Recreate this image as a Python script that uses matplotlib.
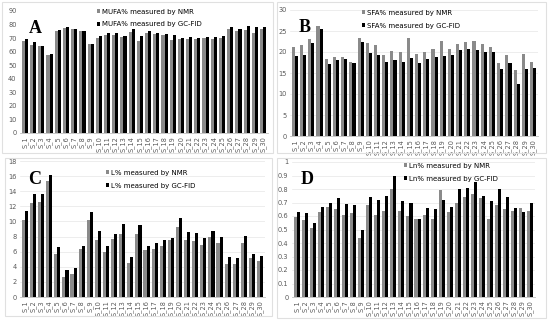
import numpy as np
import matplotlib
matplotlib.use("Agg")
import matplotlib.pyplot as plt
from matplotlib.patches import Rectangle

samples = ["S_%d" % i for i in range(1, 31)]

mufa_nmr = [68, 65, 64, 57.5, 75, 77.5, 77, 75.5, 66, 70, 72, 72, 70.5, 74.5, 67.5,
            73.5, 73, 72, 68.5, 69, 69.5, 69, 70, 69.5, 70, 77, 75, 76, 74, 76.5]
mufa_gc = [69.5, 67, 64, 58, 76, 78, 77, 75.5, 66, 71.5, 73.5, 73.5, 71.5, 76.5, 71.5,
           75.5, 74, 73, 72.5, 70, 70.5, 70, 71, 70.5, 71.5, 78, 76.5, 79, 78, 78]

sfa_nmr = [21.3, 21.7, 23.0, 26.2, 18.4, 18.7, 18.7, 17.7, 23.3, 22.1, 21.6, 19.3, 20.3, 20.0, 23.4,
           19.6, 20.1, 20.8, 22.6, 20.6, 21.8, 22.4, 22.7, 22.0, 21.2, 17.4, 19.2, 15.6, 19.6, 17.7]
sfa_gc = [19.0, 19.4, 22.1, 25.5, 17.2, 18.0, 18.4, 17.4, 22.5, 19.8, 19.4, 17.7, 18.2, 17.7, 18.6,
          17.4, 18.4, 18.8, 19.0, 19.2, 20.4, 20.7, 20.5, 20.0, 19.9, 15.9, 17.4, 12.4, 15.9, 16.1]

l_nmr = [10.2, 12.5, 12.6, 15.4, 5.7, 2.7, 3.1, 6.4, 10.2, 7.5, 5.9, 7.7, 8.3, 4.5, 8.3,
         6.2, 6.4, 6.7, 7.6, 9.3, 7.6, 7.4, 6.9, 7.9, 7.2, 4.4, 4.4, 7.1, 5.2, 4.8]
l_gc = [11.4, 13.6, 13.6, 16.2, 6.6, 3.6, 3.9, 6.7, 11.3, 8.7, 6.7, 8.4, 9.6, 5.3, 9.5,
        6.7, 7.1, 7.5, 7.8, 10.4, 8.6, 8.5, 7.8, 8.7, 7.9, 5.3, 5.1, 8.1, 5.7, 5.4]

ln_nmr = [0.59, 0.57, 0.51, 0.63, 0.67, 0.65, 0.61, 0.62, 0.44, 0.68, 0.61, 0.64, 0.80, 0.64, 0.60,
          0.58, 0.61, 0.58, 0.79, 0.63, 0.70, 0.74, 0.76, 0.73, 0.58, 0.68, 0.65, 0.64, 0.66, 0.64]
ln_gc = [0.63, 0.62, 0.55, 0.67, 0.70, 0.73, 0.69, 0.68, 0.50, 0.74, 0.72, 0.75, 0.90, 0.71, 0.70,
         0.58, 0.66, 0.65, 0.72, 0.67, 0.80, 0.81, 0.85, 0.75, 0.71, 0.80, 0.74, 0.66, 0.63, 0.70]

panels = [
    # letter, nmr, gc, label, yticks, ticklabels, axes rect (px), legend anchor, grid
    ("A", mufa_nmr, mufa_gc, "MUFA%", np.arange(0, 91, 10), None, (20, 11, 268, 133), (0.29, 1.06), False),
    ("B", sfa_nmr, sfa_gc, "SFA%", np.arange(0, 31, 5), None, (290, 10, 538, 136), (0.27, 1.04), True),
    ("C", l_nmr, l_gc, "L%", np.arange(0, 19, 2), None, (20, 161, 265, 297), (0.33, 0.97), True),
    ("D", ln_nmr, ln_gc, "Ln%", np.round(np.arange(0, 1.01, 0.1), 1),
     ["0"] + ["%.1f" % v for v in np.arange(0.1, 0.95, 0.1)] + ["1"], (292, 162, 535, 297), (0.44, 1.03), True),
]

W, H = 550, 321
fig = plt.figure(figsize=(5.5, 3.21), dpi=100)

# light panel frames
for (x0, y0, x1, y1) in [(2, 2, 273, 153), (277, 2, 546, 153), (5, 158, 272, 316), (277, 158, 546, 318)]:
    fig.patches.append(Rectangle((x0 / W, 1 - y1 / H), (x1 - x0) / W, (y1 - y0) / H,
                                 transform=fig.transFigure, fill=False,
                                 edgecolor="#e0e0e0", linewidth=0.8))

x = np.arange(len(samples))
bw = 0.38
for letter, nmr, gc, lab, yt, ytl, (x0, y0, x1, y1), anchor, grid in panels:
    ax = fig.add_axes([x0 / W, 1 - y1 / H, (x1 - x0) / W, (y1 - y0) / H])
    ax.bar(x - bw / 2, nmr, bw, color="#8a8a8a", label=lab + " measured by NMR")
    ax.bar(x + bw / 2, gc, bw, color="black", label=lab + " measured by GC-FID")
    ax.set_xlim(-0.6, len(samples) - 0.4)
    ax.set_ylim(yt[0], yt[-1])
    ax.set_yticks(yt)
    if ytl is not None:
        ax.set_yticklabels(ytl)
    ax.set_xticks(x)
    ax.set_xticklabels(samples, rotation=90)
    ax.tick_params(axis="both", labelsize=4.8, colors="#595959", length=0, pad=2.5)
    for s in ["top", "right", "left"]:
        ax.spines[s].set_visible(False)
    ax.spines["bottom"].set_color("#bfbfbf")
    ax.spines["bottom"].set_linewidth(0.6)
    if grid:
        ax.yaxis.grid(True, color="#e6e6e6", linewidth=0.5)
        ax.set_axisbelow(True)
    ax.text(0.035, 0.93, letter, transform=ax.transAxes, ha="left", va="top",
            fontsize=13, fontweight="bold", family="Liberation Serif")
    ax.legend(loc="upper left", bbox_to_anchor=anchor, frameon=False,
              fontsize=5, handlelength=0.5, handleheight=0.5, handletextpad=0.3,
              labelspacing=1.0, borderpad=0.2)

fig.savefig("out.png", dpi=100)
